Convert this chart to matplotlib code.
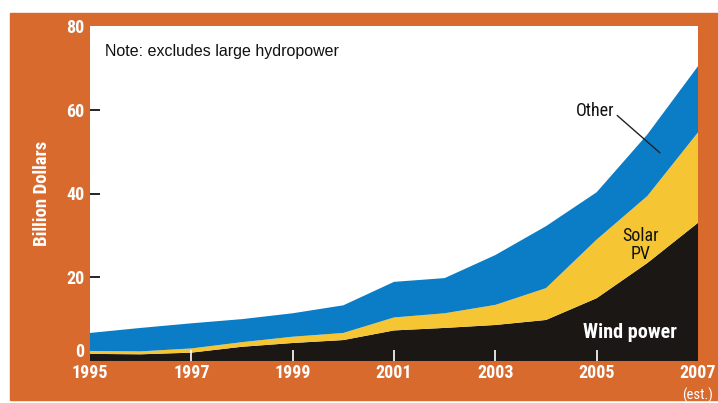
import numpy as np
import matplotlib.pyplot as plt
from matplotlib.patches import Rectangle

# 数据（十亿美元）
years = [1995, 1996, 1997, 1998, 1999, 2000, 2001, 2002, 2003, 2004, 2005, 2006, 2007]
wind = [1.7, 1.6, 2.0, 3.4, 4.3, 5.0, 7.3, 7.9, 8.6, 9.8, 15.0, 23.4, 33.0]
solar = [0.7, 0.7, 1.0, 1.1, 1.5, 1.7, 3.1, 3.5, 4.8, 7.6, 14.0, 16.0, 21.6]
other = [4.3, 5.6, 6.0, 5.5, 5.6, 6.6, 8.5, 8.4, 11.9, 14.8, 11.3, 14.7, 15.8]
tick_years = [1995, 1997, 1999, 2001, 2003, 2005, 2007]
tick_labels = ["1995", "1997", "1999", "2001", "2003", "2005", "2007"]
y_ticks = [0, 20, 40, 60, 80]

orange = "#D96A2E"
blue = "#0B7DC6"
yellow = "#F6C534"
black = "#1B1715"
narrow = ["Roboto Condensed", "Archivo Narrow", "PT Sans Narrow", "Liberation Sans Narrow",
          "DejaVu Sans"]

W, H = 718, 403
fig = plt.figure(figsize=(W / 100, H / 100), dpi=100)
fig.patch.set_facecolor("white")

# 橙色背景框
fig.patches.append(Rectangle((10 / W, 1 - 400 / H), 1 - 10 / W, (400 - 13) / H,
                             transform=fig.transFigure, color=orange, zorder=-5))

ax = fig.add_axes([90 / W, 1 - 361 / H, (698 - 90) / W, (361 - 26) / H])
ax.set_zorder(2)
ax.set_facecolor("white")

ax.stackplot(years, wind, solar, other, colors=[black, yellow, blue], linewidth=0)

ax.set_xlim(1995, 2007)
ax.set_ylim(0, 80)
for s in ax.spines.values():
    s.set_visible(False)

ax.set_yticks(y_ticks)
ax.set_yticklabels([str(v) for v in y_ticks], color="white", fontsize=13,
                   fontweight="bold", family=narrow)
ax.tick_params(axis="y", direction="in", length=7, width=1.2, color="black", pad=4)
for t in ax.yaxis.get_major_ticks():
    if t.get_loc() in (0, 80):
        t.tick1line.set_visible(False)
    if t.get_loc() == 0:
        t.label1.set_verticalalignment("bottom")

ax.set_xticks(tick_years)
ax.set_xticklabels(tick_labels, color="white", fontsize=13, fontweight="bold", family=narrow)
ax.tick_params(axis="x", direction="in", length=8, width=1.2, color="white", pad=2)
for t in ax.xaxis.get_major_ticks():
    if t.get_loc() in (1995, 2007):
        t.tick1line.set_visible(False)

ax.text(2007, -6.4, "(est.)", color="white", fontsize=10.5,
        family=narrow, ha="center", va="top")

fig.text(42 / W, 1 - 193 / H, "Billion Dollars", rotation=90, color="white",
         fontsize=13.5, fontweight="bold", family=narrow, ha="center", va="center")

ax.text(0.025, 0.945, "Note: excludes large hydropower", transform=ax.transAxes,
        fontsize=11.5, family=["Liberation Sans", "DejaVu Sans"], color="#111111",
        ha="left", va="top")

ax.annotate("Other", xy=(2006.25, 49.7), xytext=(2004.97, 59.7),
            fontsize=13, family=narrow, color="#111111", ha="center", va="center",
            arrowprops=dict(arrowstyle="-", color="#222222", lw=1,
                            shrinkA=0, shrinkB=0, relpos=(1.02, 0.35)))
ax.text(2005.87, 27.7, "Solar\nPV", fontsize=13, family=narrow, color="#111111",
        ha="center", va="center", linespacing=0.95)
ax.text(2005.66, 6.9, "Wind power", fontsize=14.5, fontweight="bold", family=narrow,
        color="white", ha="center", va="center")

fig.savefig("out.png", dpi=100)
